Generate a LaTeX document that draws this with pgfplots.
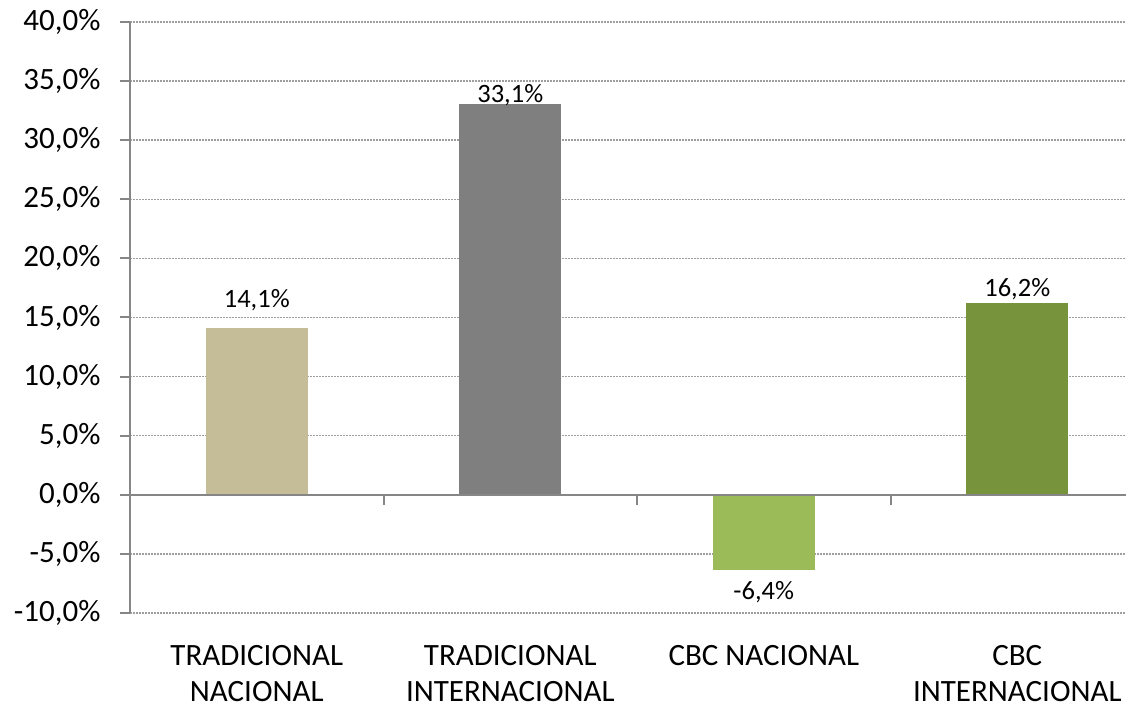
\documentclass[border=0pt]{standalone}
\usepackage{pgfplots}
\pgfplotsset{compat=1.18}
\usepackage{fontspec}
\setmainfont{Carlito}
\definecolor{c1}{HTML}{C4BD97}
\definecolor{c2}{HTML}{7F7F7F}
\definecolor{c3}{HTML}{9BBB59}
\definecolor{c4}{HTML}{77933C}
\definecolor{axgray}{HTML}{868686}
\begin{document}
\begin{tikzpicture}
\useasboundingbox (0,0) rectangle (1126pt,709pt);
\begin{axis}[
  at={(130pt,96pt)}, anchor=south west,
  scale only axis, width=996pt, height=591pt,
  xmin=-0.5, xmax=3.429, ymin=-10, ymax=40,
  ytick distance=5,
  xtick={0,1,2,3},
  xticklabels={{TRADICIONAL\\NACIONAL},{TRADICIONAL\\INTERNACIONAL},{CBC NACIONAL},{CBC\\INTERNACIONAL}},
  axis line style={draw=none},
  ymajorgrids,
  grid style={axgray!80, line width=1.5pt, dash pattern=on 1.5pt off 1.5pt},
  tick align=outside, major tick length=10pt,
  ytick pos=left,
  ytick style={color=axgray, line width=2pt},
  xtick style={draw=none},
  /pgf/number format/use comma,
  /pgf/number format/fixed,
  /pgf/number format/fixed zerofill,
  /pgf/number format/precision=1,
  /pgf/number format/assume math mode=true,
  yticklabel={\pgfmathprintnumber{\tick}\%},
  tick label style={font=\fontsize{31}{36}\selectfont, black},
  yticklabel style={xshift=-16pt},
  xticklabel style={align=center, anchor=north, yshift=-19pt},
  ybar, bar width=102pt, bar shift=0pt,
  nodes near coords={\pgfmathprintnumber{\pgfplotspointmeta}\%},
  every node near coord/.append style={font=\fontsize{26.5}{30}\selectfont, black},
  clip=false,
]
\addplot[fill=c1, draw=none, every node near coord/.append style={yshift=14pt}] coordinates {(0,14.1)};
\addplot[fill=c2, draw=none, every node near coord/.append style={yshift=-6pt}] coordinates {(1,33.1)};
\addplot[fill=c3, draw=none, every node near coord/.append style={yshift=-7pt}] coordinates {(2,-6.4)};
\addplot[fill=c4, draw=none] coordinates {(3,16.2)};
\draw[axgray, line width=2pt] (axis cs:-0.5,0) -- (axis cs:3.429,0);
\draw[axgray, line width=2pt] (axis cs:0.5,0) -- ++(0pt,-10pt);
\draw[axgray, line width=2pt] (axis cs:1.5,0) -- ++(0pt,-10pt);
\draw[axgray, line width=2pt] (axis cs:2.5,0) -- ++(0pt,-10pt);
\draw[axgray, line width=2pt] (rel axis cs:0,0) -- (rel axis cs:0,1);
\end{axis}
\end{tikzpicture}
\end{document}
